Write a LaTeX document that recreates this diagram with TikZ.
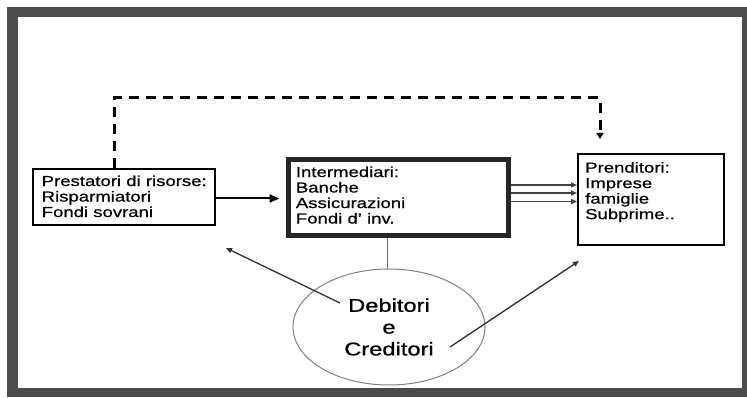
\documentclass[tikz,border=0pt]{standalone}
\usepackage{fontspec}
\setmainfont{Liberation Sans}
\newfontfamily\boxfont[FakeStretch=1.28,FakeBold=0.7]{Liberation Sans}
\usetikzlibrary{arrows.meta,calc,shapes.geometric}
\definecolor{framegray}{HTML}{4B4B4B}
\definecolor{ellgray}{HTML}{808080}
\definecolor{lgray}{HTML}{6A6A6A}
\definecolor{agray}{HTML}{333333}
\begin{document}
\begin{tikzpicture}[x=1pt,y=-1pt,
  boxtext/.style={anchor=north west,inner sep=0pt,align=left,
    font={\boxfont\fontsize{14.5}{15.5}\selectfont}},
  thinbox/.style={draw=black,line width=2pt,inner sep=0pt},
  thickbox/.style={draw=black!85,line width=5pt,inner sep=0pt},
  dashline/.style={line width=3pt,dash pattern=on 10pt off 7pt,
    -{Triangle[length=6pt,width=7pt]}},
  mainarrow/.style={line width=2pt,-{Triangle[length=10pt,width=8pt]}},
  multiarrow/.style={line width=1.5pt,draw=black!75,-{Triangle[length=6pt,width=5pt]}},
  diagarrow/.style={line width=1.3pt,draw=agray,-{Triangle[length=6pt,width=5pt]}}
]
\useasboundingbox (0,0) rectangle (747,398);
\fill[framegray] (7,7) rectangle (747,397);
\fill[white] (18,17) rectangle (742,388);

% boxes
\node[thinbox,minimum width=182pt,minimum height=56pt] (lbox) at (124,197) {};
\node[thickbox,minimum width=220pt,minimum height=76pt] (mbox) at (398.5,197.5) {};
\node[thinbox,minimum width=146pt,minimum height=91pt] (rbox) at (651,199.5) {};

% texts
\node[boxtext] (ltext) at (41.5,175.3) {Prestatori di risorse:\\Risparmiatori\\Fondi sovrani};
\node[boxtext] (mtext) at (295.7,166.3) {Intermediari:\\Banche\\Assicurazioni\\Fondi d’ inv.};
\node[boxtext] (rtext) at (585,161.9) {Prenditori:\\Imprese\\famiglie\\Subprime..};

% ellipse
\node[ellipse,draw=ellgray,line width=1pt,minimum width=192pt,minimum height=116pt,
  inner sep=0pt,align=center,font={\boxfont\fontsize{18.5}{21.8}\selectfont}]
  (ell) at (389,327) {Debitori\\e\\Creditori};

% dashed connector
\coordinate (dstart) at ($(lbox.north west)+(82,0)$);
\coordinate (dend) at (600,139);
\draw[dashline] (dstart) -- ++(0,-70) -| (dend);

% main arrow
\draw[mainarrow] (lbox.east |- 0,198.5) -- ($(mbox.west |- 0,198.5)+(-6.5,0)$);

% three arrows
\foreach \yy in {185,193,201.5}
  \draw[multiarrow] (mbox.east |- 0,\yy) -- (rbox.west |- 0,\yy);

% vertical line
\draw[lgray,line width=1pt] (mbox.south -| 387,0) -- (ell.north -| 387,0);

% diagonal arrows
\coordinate (d1s) at (340,303);
\coordinate (d1e) at (226,248);
\coordinate (d2s) at (450,347);
\coordinate (d2e) at (579,261);
\draw[diagarrow] (d1s) -- (d1e);
\draw[diagarrow] (d2s) -- (d2e);
\end{tikzpicture}
\end{document}
